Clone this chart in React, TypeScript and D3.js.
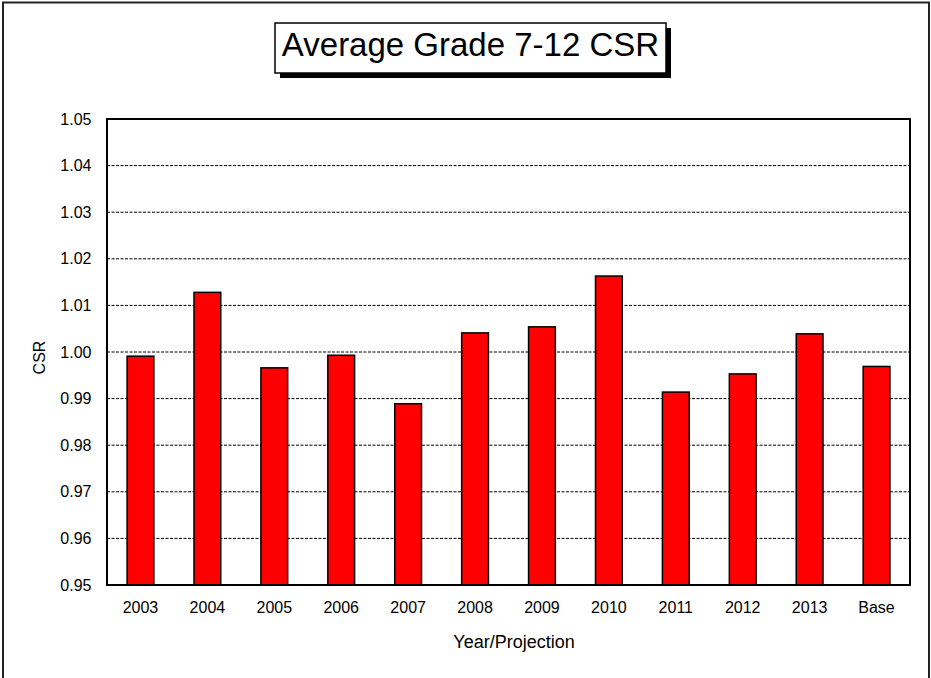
import { useEffect } from 'react';
import * as d3 from 'd3';

const categories = ['2003', '2004', '2005', '2006', '2007', '2008', '2009', '2010', '2011', '2012', '2013', 'Base'];
const csrValues = [0.9991, 1.0128, 0.9966, 0.9993, 0.9889, 1.0041, 1.0054, 1.0163, 0.9914, 0.9953, 1.0039, 0.9969];
const yTicks = [0.95, 0.96, 0.97, 0.98, 0.99, 1.0, 1.01, 1.02, 1.03, 1.04, 1.05];

const FONT = 'Arial, "Liberation Sans", sans-serif';

export default function App() {
  useEffect(() => {
    document.body.style.margin = '0';
  }, []);

  const width = 931;
  const height = 678;
  const plot = { left: 107, right: 910, top: 119, bottom: 585 };

  const x = d3.scaleBand<string>()
    .domain(categories)
    .range([plot.left, plot.right])
    .paddingInner(0.6)
    .paddingOuter(0.3);

  const y = d3.scaleLinear()
    .domain([0.95, 1.05])
    .range([plot.bottom, plot.top]);

  return (
    <svg width={width} height={height} style={{ display: 'block' }} fontFamily={FONT}>
      <rect x={0} y={0} width={width} height={height} fill="#fff" />
      {/* outer frame */}
      <rect x={3} y={2.5} width={926} height={690} fill="none" stroke="#222" strokeWidth={2} />

      {/* title box with shadow */}
      <rect x={280} y={28} width={391} height={50} fill="#000" />
      <rect x={275} y={23} width={391} height={50} fill="#fff" stroke="#000" strokeWidth={1.5} />
      <text x={470.5} y={56} textAnchor="middle" fontSize={33} fill="#000">Average Grade 7-12 CSR</text>

      {/* grid lines */}
      {yTicks.slice(1, -1).map(t => (
        <line key={t} x1={plot.left} x2={plot.right} y1={y(t)} y2={y(t)}
          stroke="#000" strokeWidth={1} strokeDasharray="3,1.5" />
      ))}

      {/* bars */}
      {categories.map((c, i) => (
        <rect key={c}
          x={x(c)}
          y={y(csrValues[i])}
          width={x.bandwidth()}
          height={y(0.95) - y(csrValues[i])}
          fill="#ff0000" stroke="#000" strokeWidth={1.5} />
      ))}

      {/* plot frame */}
      <rect x={plot.left} y={plot.top} width={plot.right - plot.left} height={plot.bottom - plot.top}
        fill="none" stroke="#000" strokeWidth={2} />

      {/* y tick labels */}
      {yTicks.map(t => (
        <text key={t} x={91.5} y={y(t)} dy="0.35em" textAnchor="end" fontSize={16} fill="#000">
          {d3.format('.2f')(t)}
        </text>
      ))}

      {/* x tick labels */}
      {categories.map(c => (
        <text key={c} x={(x(c) ?? 0) + x.bandwidth() / 2} y={613} textAnchor="middle" fontSize={16} fill="#000">
          {c}
        </text>
      ))}

      {/* axis titles */}
      <text x={514} y={648} textAnchor="middle" fontSize={18} fill="#000">Year/Projection</text>
      <text transform={`translate(45, 357.5) rotate(-90)`} textAnchor="middle" fontSize={16} fill="#000">CSR</text>
    </svg>
  );
}
